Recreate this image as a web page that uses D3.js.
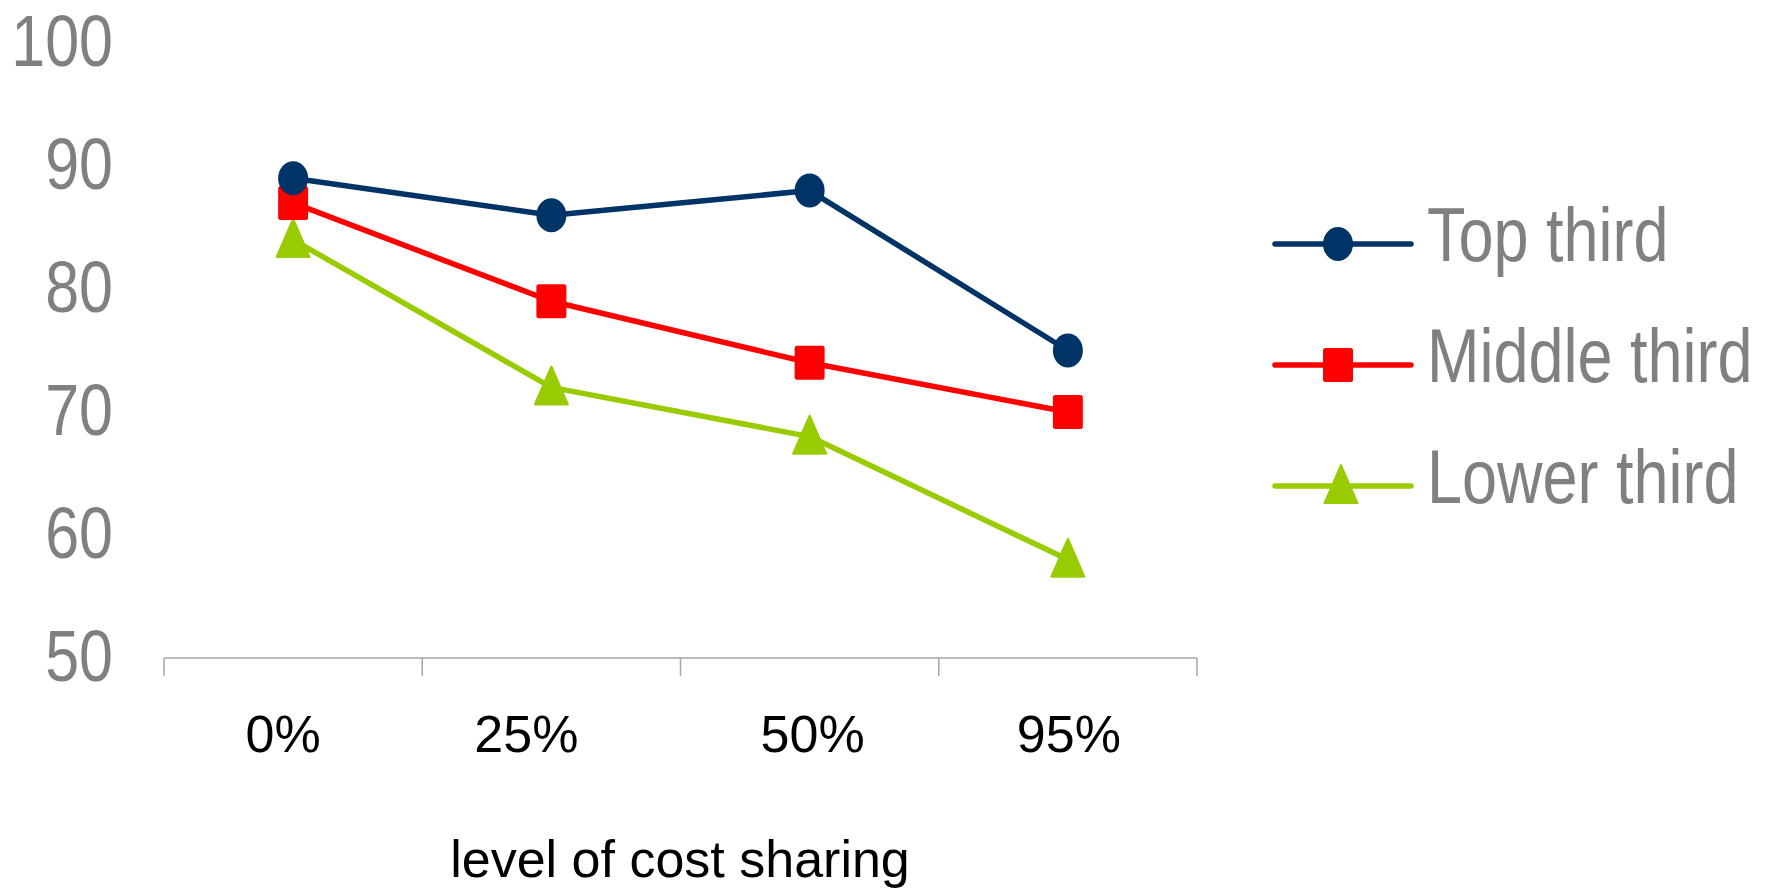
<!DOCTYPE html>
<html>
<head>
<meta charset="utf-8">
<script src="https://cdn.jsdelivr.net/npm/d3@7"></script>
<style>
  html, body { margin: 0; padding: 0; background: #ffffff; }
  svg { display: block; font-family: "Liberation Sans", Arial, sans-serif; }
</style>
</head>
<body>
<svg id="chart" width="1775" height="888"></svg>
<script>
// Categories and series values
const categories = ["0%", "25%", "50%", "95%"];
const topThird = [89, 86, 88, 75];
const middleThird = [87, 79, 74, 70];
const lowerThird = [84, 72, 68, 58];
const yTicks = [50, 60, 70, 80, 90, 100];
const seriesNames = ["Top third", "Middle third", "Lower third"];
const xTitle = "level of cost sharing";

const series = [
  { name: seriesNames[0], values: topThird, color: "#003366", shape: "circle" },
  { name: seriesNames[1], values: middleThird, color: "#ff0000", shape: "square" },
  { name: seriesNames[2], values: lowerThird, color: "#99cc00", shape: "triangle" }
];

// Horizontal nudges for the category labels (px)
const labelNudge = [-10, -25, 3, 1];

const svg = d3.select("#chart");

const x = d3.scaleBand().domain(categories).range([164, 1197]).padding(0);
const y = d3.scaleLinear().domain([50, 100]).range([658, 43]);
const cx = c => x(c) + x.bandwidth() / 2;

// X axis: baseline with ticks at band boundaries
const xAxis = svg.append("g");
xAxis.append("line")
  .attr("x1", x.range()[0]).attr("x2", x.range()[1])
  .attr("y1", y(50)).attr("y2", y(50))
  .attr("stroke", "#a6a6a6").attr("stroke-width", 1.5);
const bounds = categories.map(c => x(c)).concat([x.range()[1]]);
xAxis.selectAll("line.tick").data(bounds).join("line")
  .attr("class", "tick")
  .attr("x1", d => d).attr("x2", d => d)
  .attr("y1", y(50)).attr("y2", y(50) + 18)
  .attr("stroke", "#a6a6a6").attr("stroke-width", 1.5);
xAxis.selectAll("text").data(categories).join("text")
  .attr("x", (d, i) => cx(d) + labelNudge[i]).attr("y", 752)
  .attr("text-anchor", "middle")
  .attr("font-size", 52).attr("fill", "#000000")
  .text(d => d);

// Y axis labels (no axis line), slightly tall lettering
svg.append("g").selectAll("text").data(yTicks).join("text")
  .attr("transform", d => `translate(113,${y(d) + 23}) scale(1,1.18)`)
  .attr("text-anchor", "end")
  .attr("font-size", 61).attr("fill", "#808080")
  .text(d => d);

// X axis title
svg.append("text")
  .attr("x", 680).attr("y", 877)
  .attr("text-anchor", "middle")
  .attr("font-size", 52).attr("fill", "#000000")
  .text(xTitle);

// Marker drawing helper
function drawMarker(g, shape, color, px, py) {
  if (shape === "circle") {
    g.append("ellipse").attr("cx", px).attr("cy", py)
      .attr("rx", 15).attr("ry", 17).attr("fill", color);
  } else if (shape === "square") {
    g.append("rect").attr("x", px - 15).attr("y", py - 17)
      .attr("width", 30).attr("height", 34).attr("rx", 2.5)
      .attr("fill", color);
  } else {
    const h = 38, w = 33;
    g.append("path")
      .attr("d", `M${px},${py - h * 0.55} L${px + w / 2},${py + h * 0.45} L${px - w / 2},${py + h * 0.45} Z`)
      .attr("fill", color).attr("stroke", color)
      .attr("stroke-width", 2).attr("stroke-linejoin", "round");
  }
}

const line = d3.line().x(d => cx(d.c)).y(d => y(d.v));

// Lower series first so the top series sits above
const plot = svg.append("g");
series.slice().reverse().forEach(s => {
  const pts = categories.map((c, i) => ({ c, v: s.values[i] }));
  plot.append("path").datum(pts)
    .attr("d", line)
    .attr("fill", "none").attr("stroke", s.color)
    .attr("stroke-width", 5.5).attr("stroke-linejoin", "round");
  const mg = plot.append("g");
  pts.forEach(p => drawMarker(mg, s.shape, s.color, cx(p.c), y(p.v)));
});

// Legend
const legendRows = [244, 365, 486];
const legend = svg.append("g");
series.forEach((s, i) => {
  const ly = legendRows[i];
  legend.append("line")
    .attr("x1", 1275).attr("x2", 1411)
    .attr("y1", ly).attr("y2", ly)
    .attr("stroke", s.color).attr("stroke-width", 5.5)
    .attr("stroke-linecap", "round");
  drawMarker(legend, s.shape, s.color, s.shape === "triangle" ? 1341 : 1338, ly);
  legend.append("text")
    .attr("transform", `translate(1427,${ly + 17}) scale(1,1.2)`)
    .attr("font-size", 63).attr("fill", "#808080")
    .text(s.name);
});
</script>
</body>
</html>
